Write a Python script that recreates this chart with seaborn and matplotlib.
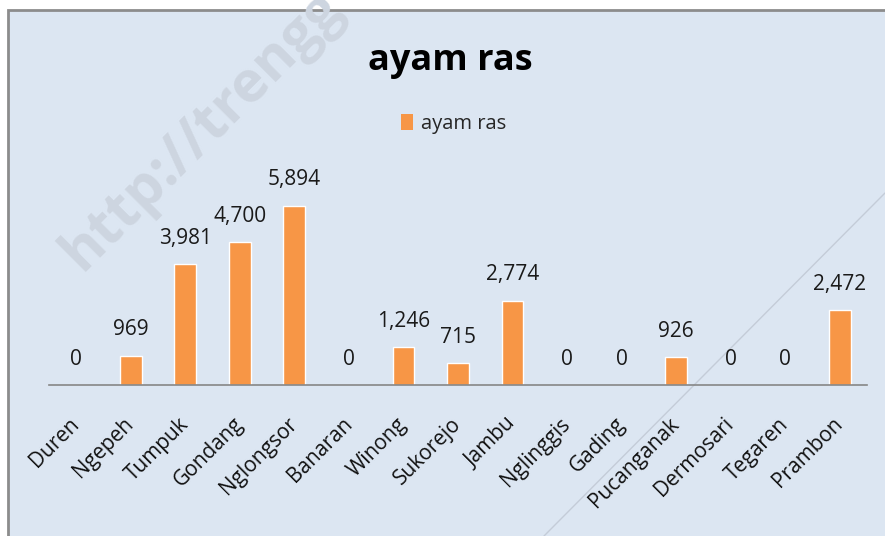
import matplotlib
matplotlib.use('Agg')
import matplotlib.pyplot as plt
import seaborn as sns
import pandas as pd
from matplotlib.patches import Rectangle, Patch
from matplotlib.lines import Line2D

categories = ["Duren", "Ngepeh", "Tumpuk", "Gondang", "Nglongsor", "Banaran", "Winong",
              "Sukorejo", "Jambu", "Nglinggis", "Gading", "Pucanganak", "Dermosari",
              "Tegaren", "Prambon"]
values = [0, 969, 3981, 4700, 5894, 0, 1246, 715, 2774, 0, 0, 926, 0, 0, 2472]
series_name = "ayam ras"
chart_title = "ayam ras"
watermark = "http://trengg"

sns.set_theme(style="white")
plt.rcParams['font.family'] = ['Open Sans', 'DejaVu Sans']

W, H = 885, 536
fig = plt.figure(figsize=(W / 100, H / 100), dpi=100)
fig.patch.set_facecolor('white')

bg = Rectangle((8 / W, -0.02), 1.0, 1.02 - 10 / H, transform=fig.transFigure,
               facecolor='#dce6f2', edgecolor='#8c8c8c', linewidth=2, zorder=-2)
fig.patches.append(bg)

# watermark and decorative line
fig.text(82 / W, 1 - 272 / H, watermark, rotation=45, rotation_mode='anchor',
         ha='left', va='baseline', fontsize=41, weight='bold', color='#cdd5e0', zorder=-1)
fig.lines.append(Line2D([544 / W, 1.0], [0, 1 - 193 / H], transform=fig.transFigure,
                        color='#c4ccd8', linewidth=1, zorder=-1))

df = pd.DataFrame({"desa": categories, "jumlah": values})
ax = fig.add_axes([49 / W, 1 - 385 / H, 818 / W, 213 / H])
ax.set_zorder(2)
ax.set_facecolor('none')
sns.barplot(data=df, x="desa", y="jumlah", color='#f79646', saturation=1, width=0.4, ax=ax)
ax.set_ylim(0, 7000)
ax.set_xlim(-0.5, len(categories) - 0.5)
ax.set_xlabel('')
ax.set_ylabel('')
ax.set_yticks([])
for s in ['top', 'right', 'left']:
    ax.spines[s].set_visible(False)
ax.spines['bottom'].set_color('#868686')
ax.spines['bottom'].set_linewidth(1.2)

ax.bar_label(ax.containers[0], labels=[f"{v:,}" for v in values], padding=11,
             fontsize=15, color='#1a1a1a')

ax.set_xticks(range(len(categories)))
ax.set_xticklabels(categories, rotation=45, ha='right', va='center', rotation_mode='anchor',
                   fontsize=15, color='#111111')
ax.tick_params(axis='x', length=0, pad=26)

fig.text(450 / W, 1 - 70 / H, chart_title, ha='center', va='baseline', fontsize=26,
         weight='bold', color='#000000')

handle = Patch(facecolor='#f79646', edgecolor='none')
fig.legend(handles=[handle], labels=[series_name], loc='center',
           bbox_to_anchor=(454 / W, 1 - 124 / H), frameon=False, fontsize=14.5,
           handlelength=0.6, handleheight=0.8, handletextpad=0.4)

fig.savefig('out.png', dpi=100, facecolor=fig.get_facecolor())
